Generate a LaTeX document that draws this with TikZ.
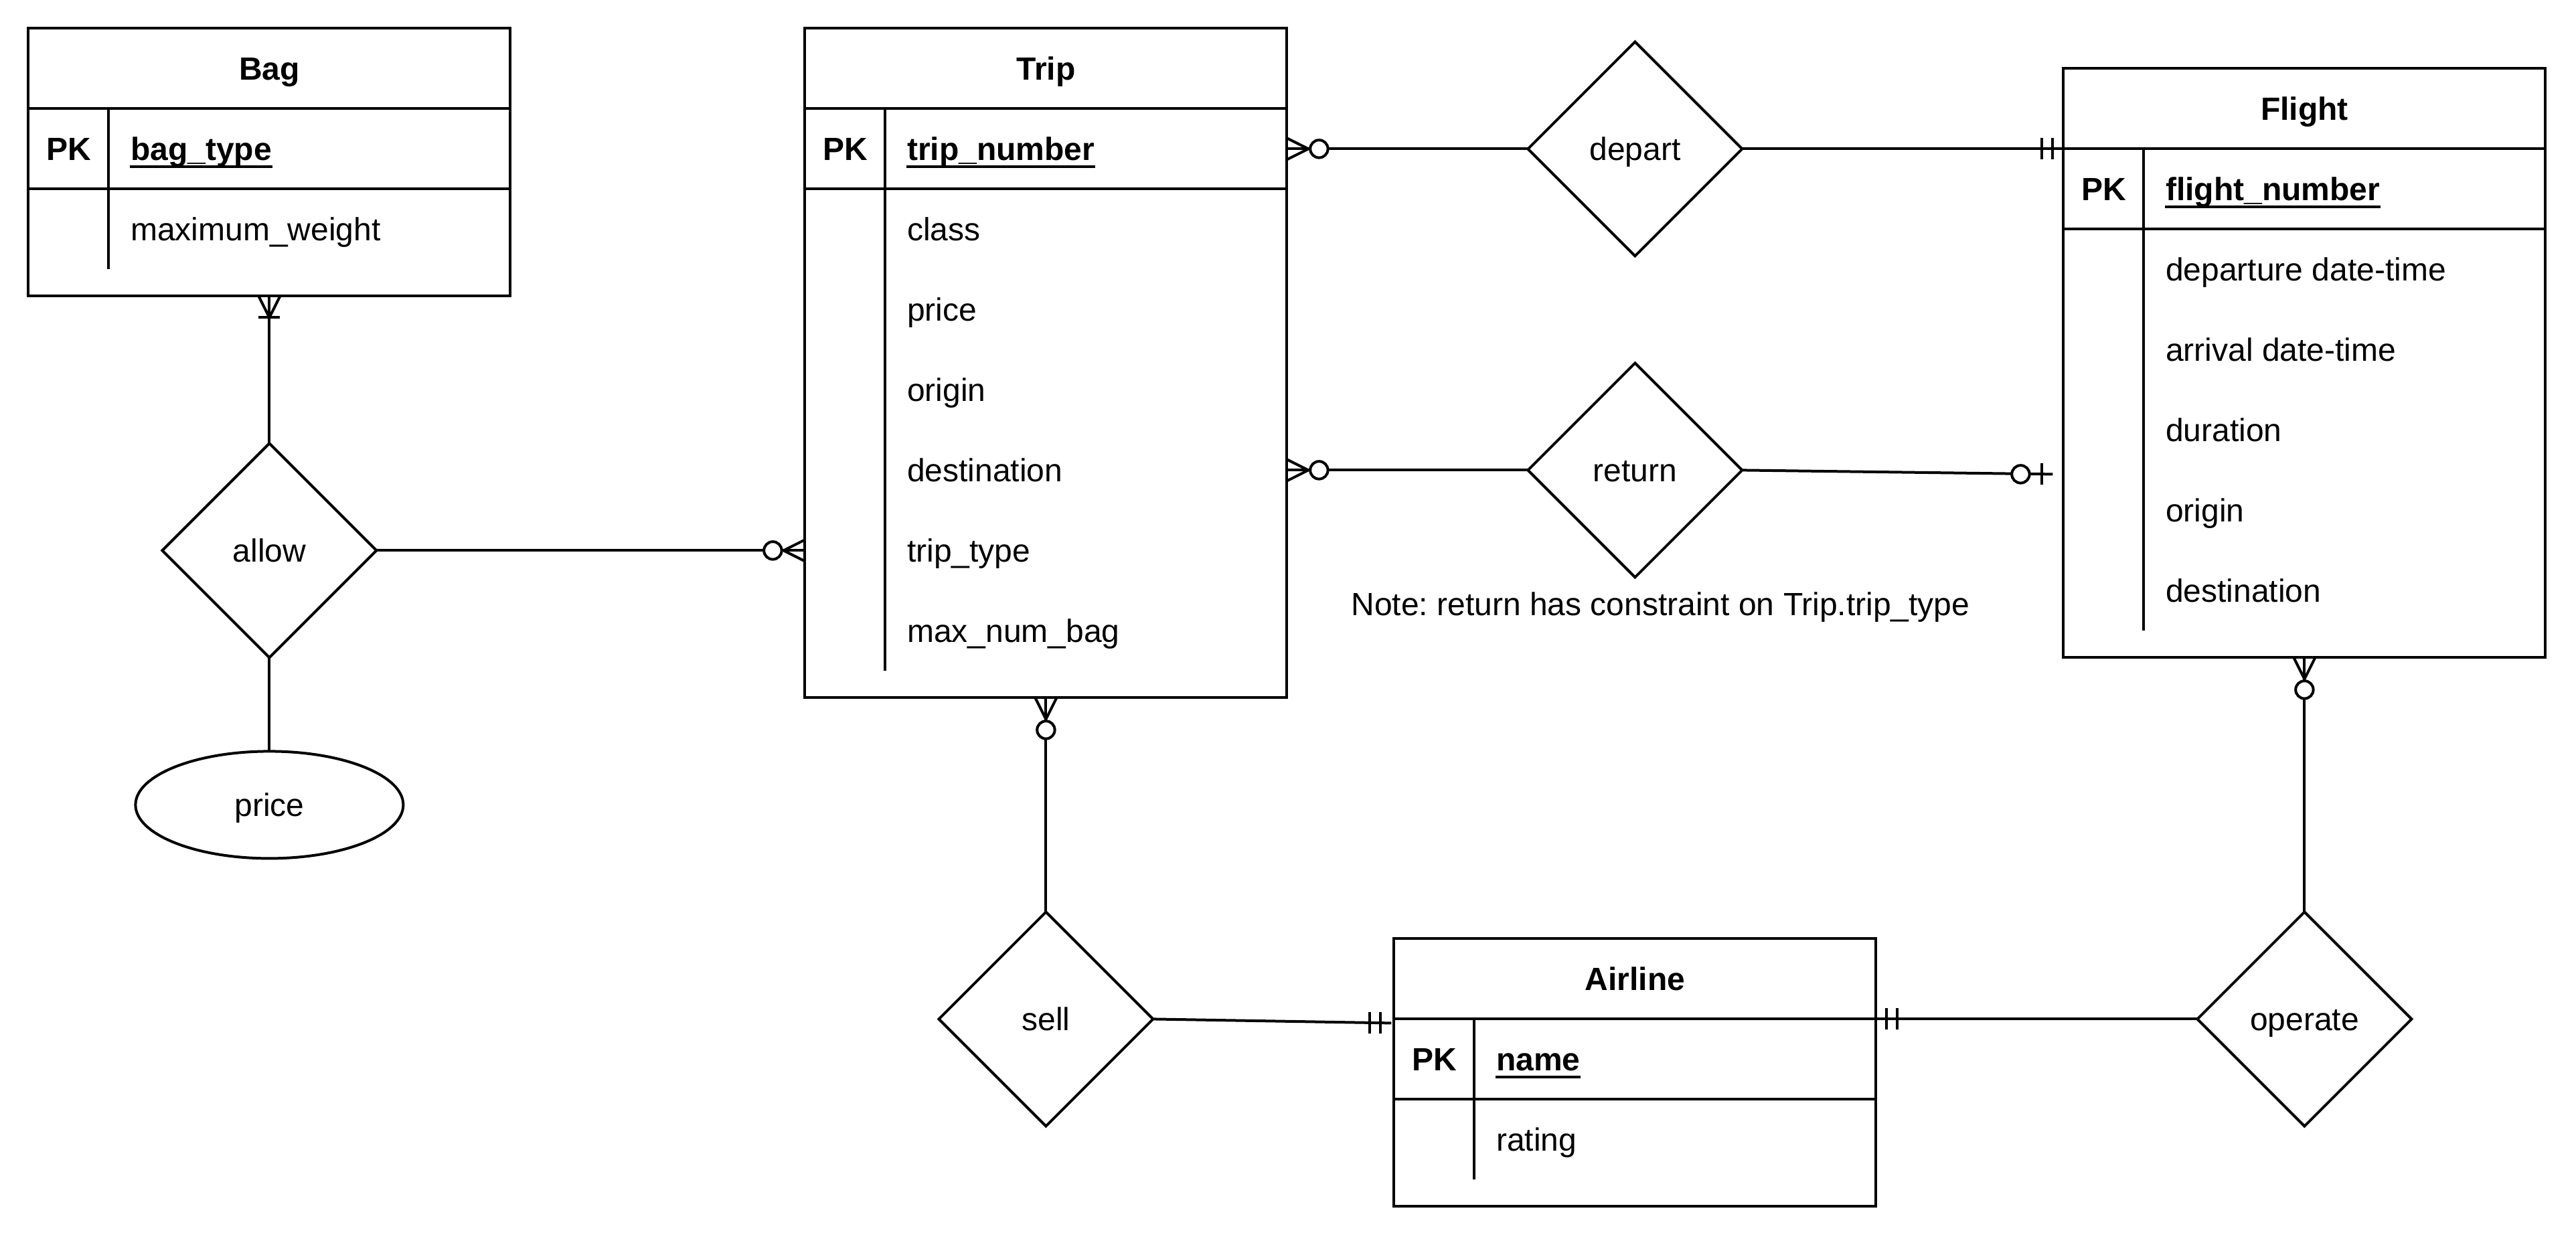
\documentclass[tikz,border=0pt]{standalone}
\usepackage{fontspec}
\setmainfont{Liberation Sans}
\usetikzlibrary{shapes.geometric}
\newcommand{\fs}{\fontsize{12pt}{14.4pt}\selectfont\frenchspacing}
\tikzset{
  tbl/.style={draw, line width=1pt, rectangle, anchor=north west, inner sep=0pt, outer sep=0pt},
  rel/.style={draw, line width=1pt, diamond, minimum width=80pt, minimum height=80pt, inner sep=0pt, outer sep=0pt, font=\fs, text height=8.6pt, text depth=0pt},
  attrib/.style={draw, line width=1pt, ellipse, minimum width=100pt, minimum height=40pt, inner sep=0pt, outer sep=0pt, font=\fs, text height=8.6pt, text depth=0pt},
  ttl/.style={font=\fs\bfseries, inner sep=0pt, text height=8.6pt, text depth=0pt},
  pkey/.style={font=\fs\bfseries, inner sep=0pt, text height=8.6pt, text depth=0pt},
  fld/.style={font=\fs, anchor=west, inner sep=0pt, text height=8.6pt, text depth=0pt},
  keyfld/.style={font=\fs\bfseries, anchor=west, inner sep=0pt, text height=8.6pt, text depth=0pt},
  notetext/.style={font=\fs, inner sep=0pt, text height=8.6pt, text depth=0pt},
  conn/.style={line width=1pt},
  sep/.style={line width=1pt},
  uline/.style={line width=1pt},
  zmany/.pic={\draw[line width=1pt] (0,-4)--(8,0)--(0,4); \draw[line width=1pt, fill=white] (12,0) circle[radius=3.3];},
  omany/.pic={\draw[line width=1pt] (0,-4)--(8,0)--(0,4); \draw[line width=1pt] (8,-4)--(8,4);},
  mone/.pic={\draw[line width=1pt] (4,-4)--(4,4) (8,-4)--(8,4);},
  zone/.pic={\draw[line width=1pt] (4,-4)--(4,4); \draw[line width=1pt, fill=white] (12,0) circle[radius=3.3];},
}
\begin{document}
\begin{tikzpicture}[x=1pt, y=-1pt]
\useasboundingbox (0,0) rectangle (962,461);
\begin{scope}[xshift=0.6pt, yshift=-0.6pt]
% ---------- Bag ----------
\node[tbl, minimum width=180pt, minimum height=100pt] (bag) at (10,10) {};
\draw[sep] (10,40) -- (190,40);
\draw[sep] (10,70) -- (190,70);
\draw[sep] (40,40) -- (40,100);
\node[ttl] (bagT) at (100,25) {Bag};
\node[pkey] (bagPK) at (25,55) {PK};
\node[keyfld] (bagK) at (48,55) {bag\_type};
\node[fld] (bagA1) at (48,85) {maximum\_weight};

% ---------- Trip ----------
\node[tbl, minimum width=180pt, minimum height=250pt] (trip) at (300,10) {};
\draw[sep] (300,40) -- (480,40);
\draw[sep] (300,70) -- (480,70);
\draw[sep] (330,40) -- (330,250);
\node[ttl] (tripT) at (390,25) {Trip};
\node[pkey] (tripPK) at (315,55) {PK};
\node[keyfld] (tripK) at (338,55) {trip\_number};
\node[fld] (tripA1) at (338,85) {class};
\node[fld] (tripA2) at (338,115) {price};
\node[fld] (tripA3) at (338,145) {origin};
\node[fld] (tripA4) at (338,175) {destination};
\node[fld] (tripA5) at (338,205) {trip\_type};
\node[fld] (tripA6) at (338,235) {max\_num\_bag};

% ---------- Flight ----------
\node[tbl, minimum width=180pt, minimum height=220pt] (flight) at (770,25) {};
\draw[sep] (770,55) -- (950,55);
\draw[sep] (770,85) -- (950,85);
\draw[sep] (800,55) -- (800,235);
\node[ttl] (flightT) at (860,40) {Flight};
\node[pkey] (flightPK) at (785,70) {PK};
\node[keyfld] (flightK) at (808,70) {flight\_number};
\node[fld] (flightA1) at (808,100) {departure date-time};
\node[fld] (flightA2) at (808,130) {arrival date-time};
\node[fld] (flightA3) at (808,160) {duration};
\node[fld] (flightA4) at (808,190) {origin};
\node[fld] (flightA5) at (808,220) {destination};

% ---------- Airline ----------
\node[tbl, minimum width=180pt, minimum height=100pt] (airline) at (520,350) {};
\draw[sep] (520,380) -- (700,380);
\draw[sep] (520,410) -- (700,410);
\draw[sep] (550,380) -- (550,440);
\node[ttl] (airlineT) at (610,365) {Airline};
\node[pkey] (airlinePK) at (535,395) {PK};
\node[keyfld] (airlineK) at (558,395) {name};
\node[fld] (airlineA1) at (558,425) {rating};

% ---------- underlines of key fields ----------
\foreach \k in {bagK, tripK, flightK, airlineK}
  \draw[uline] ([yshift=-2.2pt]\k.south west) -- ([yshift=-2.2pt]\k.south east);

% ---------- Relationships ----------
\node[rel] (allow) at (100,205) {allow};
\node[rel] (depart) at (610,55) {depart};
\node[rel] (return) at (610,175) {return};
\node[rel] (sell) at (390,380) {sell};
\node[rel] (operate) at (860,380) {operate};
\node[attrib] (price) at (100,300) {price};

\node[notetext] (note) at (619.5,225) {Note: return has constraint on Trip.trip\_type};

% ---------- connection points ----------
\coordinate (trL) at (300,205);
\coordinate (trR1) at (480,55);
\coordinate (trR2) at (480,175);
\coordinate (flL1) at (770,55);
\coordinate (flL2) at (766,176.5);
\coordinate (alL) at (519,381.5);
\coordinate (alR) at (700,380);

% ---------- connectors ----------
\draw[conn] (bag.south) -- (allow.north);
\draw[conn] (allow.south) -- (price.north);
\draw[conn] (allow.east) -- (trL);
\draw[conn] (trR1) -- (depart.west);
\draw[conn] (depart.east) -- (flL1);
\draw[conn] (trR2) -- (return.west);
\draw[conn] (return.east) -- (flL2);
\draw[conn] (trip.south) -- (sell.north);
\draw[conn] (sell.east) -- (alL);
\draw[conn] (alR) -- (operate.west);
\draw[conn] (flight.south) -- (operate.north);

% ---------- markers ----------
\pic[rotate=-90] at (bag.south) {omany};
\pic[rotate=180] at (trL) {zmany};
\pic at (trR1) {zmany};
\pic at (trR2) {zmany};
\pic[rotate=180] at (flL1) {mone};
\pic[rotate=180] at (flL2) {zone};
\pic[rotate=-90] at (trip.south) {zmany};
\pic[rotate=180] at (alL) {mone};
\pic at (alR) {mone};
\pic[rotate=-90] at (flight.south) {zmany};
\end{scope}
\end{tikzpicture}
\end{document}
